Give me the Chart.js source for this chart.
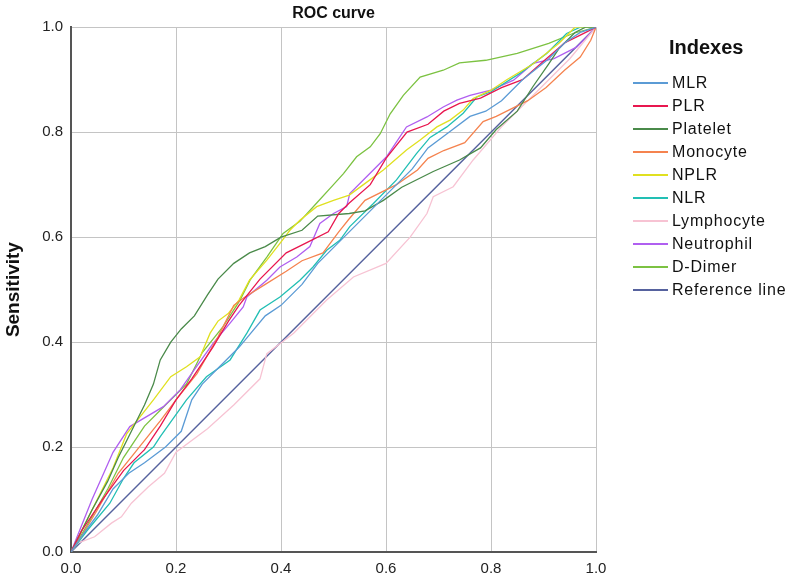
<!DOCTYPE html>
<html>
<head>
<meta charset="utf-8">
<script src="https://cdn.jsdelivr.net/npm/chart.js@4.4.1/dist/chart.umd.min.js"></script>
<style>
  html, body { margin: 0; padding: 0; background: #fff; }
  #wrap { position: relative; width: 787px; height: 579px; }
  #c { position: absolute; left: 0; top: 0; }
  #legend { position: absolute; left: 633px; top: 0; font-family: "Liberation Sans", Arial, sans-serif; color: #111; }
  #legend .ttl { position: absolute; left: 36px; top: 36px; font-weight: bold; font-size: 20px; white-space: nowrap; }
  #legend .it { position: absolute; left: 0; height: 20px; white-space: nowrap; font-size: 16px; letter-spacing: 0.8px; }
  #legend .ln { position: absolute; left: 0; top: 9px; width: 35px; height: 2px; }
  #legend .tx { position: absolute; left: 39px; top: 0; line-height: 20px; }
</style>
</head>
<body>
<div id="wrap">
  <canvas id="c" width="787" height="579"></canvas>
  <div id="legend"></div>
</div>
<script>
const seriesNames = ["MLR", "PLR", "Platelet", "Monocyte", "NPLR", "NLR", "Lymphocyte", "Neutrophil", "D-Dimer", "Reference line"];
const seriesColors = ["#5b9bd5", "#e8174f", "#4a8a4a", "#f5834f", "#e0e020", "#22bfb4", "#f7c3d3", "#b05ff0", "#7cc242", "#56629e"];
const axisTicks = [0.0, 0.2, 0.4, 0.6, 0.8, 1.0];

const MLR = [[0,0],[0.02,0.03],[0.05,0.07],[0.08,0.12],[0.11,0.15],[0.14,0.17],[0.18,0.2],[0.21,0.23],[0.23,0.29],[0.25,0.32],[0.28,0.35],[0.32,0.39],[0.37,0.45],[0.40,0.47],[0.44,0.51],[0.47,0.55],[0.50,0.58],[0.53,0.61],[0.58,0.66],[0.65,0.73],[0.68,0.77],[0.72,0.80],[0.76,0.83],[0.79,0.84],[0.82,0.86],[0.86,0.90],[0.91,0.94],[0.94,0.97],[0.97,0.99],[1,1]];
const PLR = [[0,0],[0.02,0.04],[0.06,0.1],[0.1,0.155],[0.14,0.195],[0.17,0.24],[0.2,0.29],[0.23,0.33],[0.27,0.39],[0.30,0.44],[0.32,0.47],[0.36,0.52],[0.41,0.57],[0.45,0.59],[0.49,0.61],[0.51,0.645],[0.53,0.665],[0.57,0.70],[0.60,0.75],[0.64,0.80],[0.68,0.815],[0.71,0.84],[0.74,0.855],[0.78,0.865],[0.82,0.885],[0.86,0.90],[0.9,0.935],[0.94,0.97],[0.97,0.985],[1,1]];
const Platelet = [[0,0],[0.02,0.04],[0.04,0.08],[0.07,0.135],[0.09,0.18],[0.12,0.24],[0.14,0.28],[0.157,0.32],[0.17,0.366],[0.19,0.40],[0.21,0.425],[0.235,0.45],[0.26,0.49],[0.28,0.52],[0.31,0.55],[0.34,0.57],[0.37,0.582],[0.40,0.60],[0.44,0.613],[0.47,0.64],[0.53,0.645],[0.56,0.65],[0.595,0.67],[0.63,0.695],[0.69,0.725],[0.74,0.747],[0.78,0.77],[0.81,0.805],[0.85,0.84],[0.88,0.887],[0.91,0.93],[0.93,0.96],[0.96,0.99],[0.98,1.0],[1,1]];
const Monocyte = [[0,0],[0.02,0.03],[0.05,0.08],[0.09,0.15],[0.13,0.2],[0.17,0.25],[0.2,0.29],[0.24,0.34],[0.28,0.41],[0.31,0.47],[0.33,0.485],[0.37,0.51],[0.41,0.535],[0.44,0.555],[0.48,0.57],[0.51,0.61],[0.53,0.635],[0.56,0.67],[0.62,0.70],[0.66,0.728],[0.68,0.75],[0.71,0.765],[0.75,0.78],[0.785,0.82],[0.81,0.83],[0.87,0.86],[0.905,0.885],[0.94,0.918],[0.97,0.943],[0.99,0.975],[1,1]];
const NPLR = [[0,0],[0.02,0.04],[0.05,0.1],[0.08,0.16],[0.106,0.225],[0.157,0.29],[0.19,0.334],[0.22,0.353],[0.246,0.372],[0.265,0.417],[0.28,0.44],[0.30,0.455],[0.32,0.48],[0.34,0.518],[0.373,0.556],[0.398,0.588],[0.417,0.613],[0.436,0.632],[0.468,0.658],[0.5,0.67],[0.53,0.68],[0.557,0.70],[0.595,0.728],[0.639,0.766],[0.665,0.785],[0.697,0.81],[0.722,0.823],[0.747,0.842],[0.766,0.864],[0.8,0.88],[0.83,0.9],[0.88,0.93],[0.93,0.97],[0.96,1.0],[1,1]];
const NLR = [[0,0],[0.03,0.04],[0.074,0.093],[0.1,0.14],[0.12,0.17],[0.157,0.2],[0.17,0.22],[0.22,0.29],[0.258,0.334],[0.303,0.366],[0.335,0.417],[0.36,0.461],[0.398,0.486],[0.436,0.518],[0.461,0.543],[0.487,0.575],[0.512,0.594],[0.531,0.62],[0.576,0.664],[0.62,0.709],[0.658,0.759],[0.684,0.79],[0.716,0.81],[0.747,0.836],[0.773,0.867],[0.8,0.877],[0.855,0.912],[0.906,0.95],[0.944,0.988],[0.97,1.0],[1,1]];
const Lymphocyte = [[0,0],[0.013,0.017],[0.045,0.029],[0.077,0.055],[0.096,0.067],[0.115,0.093],[0.147,0.124],[0.178,0.15],[0.2,0.19],[0.26,0.235],[0.31,0.28],[0.36,0.33],[0.373,0.378],[0.424,0.417],[0.487,0.48],[0.538,0.524],[0.60,0.55],[0.646,0.6],[0.678,0.645],[0.69,0.677],[0.728,0.696],[0.766,0.747],[0.82,0.81],[0.9,0.89],[0.95,0.94],[1,1]];
const Neutrophil = [[0,0],[0.02,0.05],[0.04,0.1],[0.08,0.19],[0.112,0.239],[0.144,0.258],[0.176,0.277],[0.208,0.309],[0.239,0.353],[0.271,0.398],[0.303,0.436],[0.328,0.467],[0.335,0.486],[0.373,0.518],[0.398,0.543],[0.43,0.562],[0.455,0.582],[0.474,0.626],[0.5,0.645],[0.525,0.658],[0.531,0.683],[0.563,0.715],[0.601,0.753],[0.639,0.81],[0.678,0.829],[0.709,0.848],[0.735,0.861],[0.76,0.87],[0.8,0.88],[0.843,0.899],[0.88,0.931],[0.92,0.94],[0.963,0.962],[0.989,0.988],[1,1]];
const DDimer = [[0,0],[0.03,0.05],[0.07,0.12],[0.1,0.18],[0.14,0.24],[0.18,0.28],[0.22,0.32],[0.25,0.38],[0.29,0.43],[0.322,0.48],[0.341,0.518],[0.373,0.562],[0.404,0.607],[0.436,0.63],[0.468,0.665],[0.5,0.70],[0.519,0.721],[0.544,0.753],[0.57,0.772],[0.589,0.797],[0.608,0.835],[0.633,0.87],[0.665,0.905],[0.709,0.918],[0.74,0.932],[0.79,0.937],[0.85,0.95],[0.91,0.969],[0.956,0.988],[1,1]];
const ReferenceLine = [[0,0],[1,1]];

const seriesData = [MLR, PLR, Platelet, Monocyte, NPLR, NLR, Lymphocyte, Neutrophil, DDimer, ReferenceLine];

const datasets = seriesData.map((pts, i) => ({
  label: seriesNames[i],
  data: pts.map(p => ({ x: p[0], y: p[1] })),
  borderColor: seriesColors[i],
  backgroundColor: seriesColors[i],
  borderWidth: i === 9 ? 1.4 : 1.3,
  pointRadius: 0,
  tension: 0,
  fill: false,
  order: i === 9 ? 10 : 0
}));

const FONT = "'Liberation Sans', Arial, sans-serif";

new Chart(document.getElementById('c'), {
  type: 'line',
  data: { datasets },
  options: {
    responsive: false,
    animation: false,
    events: [],
    layout: { padding: { left: 0, right: 191, top: 0, bottom: 0 } },
    plugins: {
      legend: { display: false },
      tooltip: { enabled: false },
      title: {
        display: true,
        text: 'ROC curve',
        fullSize: false,
        color: '#111',
        font: { family: FONT, size: 16, weight: 'bold' },
        padding: { top: 4, bottom: 4 }
      }
    },
    scales: {
      x: {
        type: 'linear',
        min: 0, max: 1,
        afterBuildTicks: s => { s.ticks = axisTicks.map(v => ({ value: v })); },
        afterFit: s => { s.height = 27; },
        ticks: { callback: v => Number(v).toFixed(1), color: '#222', font: { family: FONT, size: 15 }, padding: 8, maxRotation: 0 },
        grid: { color: '#c4c4c4', lineWidth: 1, drawTicks: false },
        border: { color: '#555', width: 2 }
      },
      y: {
        type: 'linear',
        min: 0, max: 1,
        afterBuildTicks: s => { s.ticks = axisTicks.map(v => ({ value: v })); },
        afterFit: s => { s.width = 71; },
        ticks: { callback: v => Number(v).toFixed(1), color: '#222', font: { family: FONT, size: 15 }, padding: 8 },
        grid: { color: '#c4c4c4', lineWidth: 1, drawTicks: false },
        border: { color: '#555', width: 2 },
        title: { display: true, text: 'Sensitivity', color: '#111', font: { family: FONT, size: 19, weight: 'bold' }, padding: { top: 2, bottom: 0 } }
      }
    }
  }
});

// HTML legend built from the series arrays
const lg = document.getElementById('legend');
const t = document.createElement('div');
t.className = 'ttl';
t.textContent = 'Indexes';
lg.appendChild(t);
seriesNames.forEach((name, i) => {
  const it = document.createElement('div');
  it.className = 'it';
  it.style.top = (72.5 + i * 23) + 'px';
  const ln = document.createElement('div');
  ln.className = 'ln';
  ln.style.background = seriesColors[i];
  const tx = document.createElement('div');
  tx.className = 'tx';
  tx.textContent = name;
  it.appendChild(ln);
  it.appendChild(tx);
  lg.appendChild(it);
});
</script>
</body>
</html>
